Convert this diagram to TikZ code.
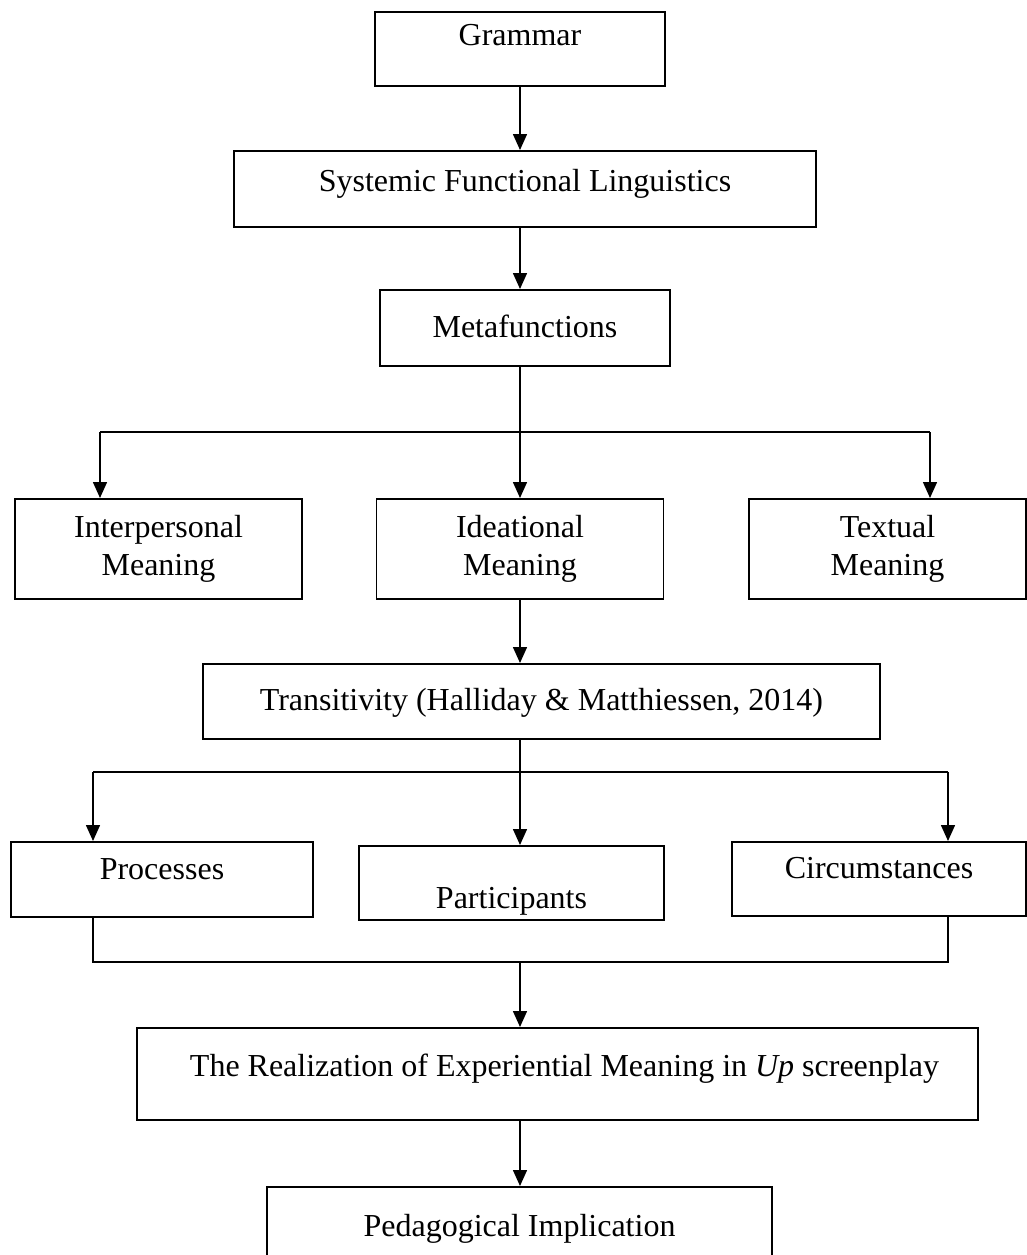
\documentclass[tikz,border=0pt]{standalone}
\usepackage{fontspec}
\setmainfont{Liberation Serif}
\usepackage{tikz}
\usetikzlibrary{arrows.meta,positioning}

\begin{document}
\begin{tikzpicture}[x=0.5pt, y=-0.5pt, line width=0.75pt,
  every node/.style={draw, inner sep=0pt, anchor=north, font=\fontsize{16}{19}\selectfont},
  arr/.style={-{Triangle[width=7pt,length=8pt]}}]
\clip (0,0) rectangle (1027,1255);
\useasboundingbox (0,0) rectangle (1027,1255);
% top chain
\node[minimum width=145pt, text height=17pt, text depth=20pt] (gram) at (520,11) {Grammar};
\node[minimum width=291pt, text height=20.5pt, text depth=17.5pt] (sfl) at (525,150) {Systemic Functional Linguistics};
\node[minimum width=145pt, text height=24pt, text depth=14pt] (meta) at (525,289) {Metafunctions};
\draw[arr] (gram.south) -- (gram.south |- sfl.north);
\draw[arr] (sfl.south -| gram) -- (gram |- meta.north);

% metafunctions
\node[minimum width=143.5pt, minimum height=50pt, align=center] (inter) at (158.5,498) {Interpersonal\\Meaning};
\node[minimum width=143.5pt, minimum height=50pt, align=center] (ideat) at (520,498) {Ideational\\Meaning};
\node[minimum width=138.5pt, minimum height=50pt, align=center] (textm) at (887.5,498) {Textual\\Meaning};
\coordinate (b1) at (100,432);
\coordinate (b2) at (930,432);
\draw (b1) -- (b2);
\draw[arr] (b1) -- (b1 |- inter.north);
\draw[arr] (meta.south -| ideat) -- (ideat.north);
\draw[arr] (b2) -- (b2 |- textm.north);

% transitivity
\node[minimum width=338.5pt, text height=23.5pt, text depth=14pt] (trans) at (541.5,663) {Transitivity (Halliday \& Matthiessen, 2014)};
\draw[arr] (ideat.south) -- (ideat.south |- trans.north);

\node[minimum width=151pt, text height=19pt, text depth=18.5pt] (proc) at (162,841) {Processes};
\node[minimum width=152.5pt, text height=31.5pt, text depth=5.5pt] (partic) at (511.5,845) {Participants};
\node[minimum width=147pt, text height=18.5pt, text depth=18.5pt] (circ) at (879,841) {Circumstances};
\coordinate (c0) at (520,772);
\coordinate (c1) at (93,772);
\coordinate (c2) at (948,772);
\draw (c1) -- (c2);
\draw[arr] (c1) -- (c1 |- proc.north);
\draw[arr] (trans.south -| c0) -- (c0 |- partic.north);
\draw[arr] (c2) -- (c2 |- circ.north);

% realization
\coordinate (d0) at (520,962);
\coordinate (d1) at (93,962);
\coordinate (d2) at (948,962);
\draw (proc.south -| d1) -- (d1) -- (d2) -- (circ.south -| d2);
\node[minimum width=420.5pt, text height=24.5pt, text depth=21.5pt] (real) at (557.5,1027) {\hspace*{7pt}The Realization of Experiential Meaning in \textit{Up} screenplay};
\draw[arr] (d0) -- (d0 |- real.north);
\node[minimum width=252.5pt, text height=25pt, text depth=30pt] (ped) at (519.5,1186) {Pedagogical Implication};
\draw[arr] (real.south -| d0) -- (d0 |- ped.north);
\end{tikzpicture}
\end{document}
